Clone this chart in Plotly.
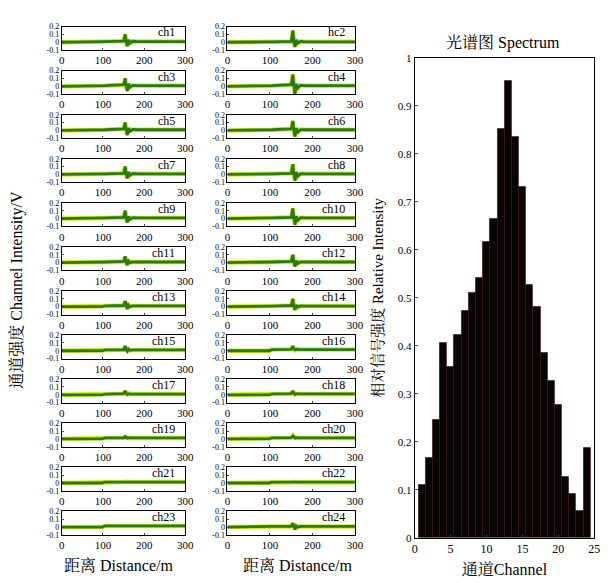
import plotly.graph_objects as go

# ---------------- data ----------------
distance = [0, 98, 105, 150, 154, 156, 159, 162, 166, 172, 185, 300]

ch1 = [0, 0, 0.008, 0.015, 0.10, 0.01, -0.05, 0.03, -0.01, 0.012, 0.008, 0.008]
ch3 = [0, 0, 0.008, 0.02, 0.10, 0.01, -0.06, 0.03, -0.01, 0.012, 0.008, 0.008]
ch5 = [0, 0, 0.008, 0.02, 0.10, 0.01, -0.06, 0.03, -0.01, 0.012, 0.008, 0.008]
ch7 = [0, 0, 0.008, 0.015, 0.10, 0.01, -0.05, 0.03, -0.01, 0.012, 0.008, 0.008]
ch9 = [0, 0, 0.008, 0.015, 0.10, 0.01, -0.05, 0.025, -0.01, 0.012, 0.008, 0.008]
ch11 = [0, 0, 0.008, 0.015, 0.08, 0.01, -0.03, 0.02, 0, 0.01, 0.008, 0.008]
ch13 = [0, 0, 0.01, 0.015, 0.07, 0.01, -0.03, 0.02, 0, 0.01, 0.01, 0.01]
ch15 = [0, 0, 0.01, 0.012, 0.06, 0.01, -0.01, 0.02, 0.005, 0.01, 0.01, 0.01]
ch17 = [0, 0, 0.01, 0.015, 0.05, 0.02, 0.005, 0.015, 0.01, 0.01, 0.01, 0.01]
ch19 = [0, 0, 0.012, 0.015, 0.03, 0.02, 0.01, 0.015, 0.012, 0.012, 0.012, 0.012]
ch21 = [0, 0, 0.012, 0.012, 0.015, 0.012, 0.01, 0.012, 0.012, 0.012, 0.012, 0.012]
ch23 = [0, 0, 0.015, 0.015, 0.015, 0.015, 0.015, 0.015, 0.015, 0.015, 0.015, 0.015]

hc2 = [0, 0, 0.005, 0.01, 0.15, 0.01, -0.06, 0.03, -0.01, 0.01, 0.005, 0.005]
ch4 = [0, 0, 0.008, 0.02, 0.15, 0.02, -0.10, 0.03, -0.02, 0.012, 0.008, 0.008]
ch6 = [0, 0, 0.008, 0.02, 0.12, 0.01, -0.08, 0.03, -0.02, 0.01, 0.008, 0.008]
ch8 = [0, 0, 0.008, 0.015, 0.13, 0.01, -0.08, 0.03, -0.02, 0.01, 0.008, 0.008]
ch10 = [0, 0, 0.008, 0.015, 0.13, 0.01, -0.08, 0.03, -0.02, 0.01, 0.008, 0.008]
ch12 = [0, 0, 0.008, 0.015, 0.10, 0.01, -0.05, 0.025, -0.01, 0.01, 0.008, 0.008]
ch14 = [0, 0, 0.008, 0.015, 0.10, 0.01, -0.04, 0.02, -0.005, 0.01, 0.008, 0.008]
ch16 = [0, 0, 0.015, 0.018, 0.06, 0.02, 0.01, 0.02, 0.015, 0.015, 0.015, 0.015]
ch18 = [0, 0, 0.012, 0.015, 0.05, 0.02, 0.005, 0.015, 0.012, 0.012, 0.012, 0.012]
ch20 = [0, 0, 0.012, 0.015, 0.04, 0.02, 0.01, 0.015, 0.012, 0.012, 0.012, 0.012]
ch22 = [0, 0, 0.01, 0.01, 0.015, 0.01, 0.008, 0.01, 0.01, 0.01, 0.01, 0.01]
ch24 = [0, 0, 0.008, 0.01, 0.05, 0.01, -0.03, 0.015, 0, 0.008, 0.008, 0.008]

left_names = ["ch1", "ch3", "ch5", "ch7", "ch9", "ch11", "ch13", "ch15", "ch17", "ch19", "ch21", "ch23"]
right_names = ["hc2", "ch4", "ch6", "ch8", "ch10", "ch12", "ch14", "ch16", "ch18", "ch20", "ch22", "ch24"]
left_series = [ch1, ch3, ch5, ch7, ch9, ch11, ch13, ch15, ch17, ch19, ch21, ch23]
right_series = [hc2, ch4, ch6, ch8, ch10, ch12, ch14, ch16, ch18, ch20, ch22, ch24]

channels = list(range(1, 25))
intensity = [0.111, 0.166, 0.246, 0.407, 0.357, 0.423, 0.473, 0.510, 0.541, 0.617,
             0.664, 0.852, 0.953, 0.836, 0.732, 0.527, 0.481, 0.386, 0.328, 0.277,
             0.126, 0.092, 0.056, 0.187]

dist_ticks = [0, 100, 200, 300]
volt_ticks = [-0.1, 0, 0.1, 0.2]
volt_ticktext = ["-0.1", "0", "0.1", "0.2"]

# ---------------- layout helpers ----------------
W, H = 610, 583
SERIF = "Liberation Serif, Noto Serif CJK SC, Noto Sans CJK SC, serif"


def px(x):
    return x / W


def py(y):
    return 1 - y / H


fig = go.Figure()
layout = {}
annotations = []

col_x = [(60, 186), (229, 359)]
row_top0, row_pitch, box_h = 21, 45, 24

idx = 0
for c, (names, series) in enumerate([(left_names, left_series), (right_names, right_series)]):
    x0, x1 = col_x[c]
    for r in range(12):
        idx += 1
        top = row_top0 + row_pitch * r
        bot = top + box_h
        xa = "x" if idx == 1 else f"x{idx}"
        ya = "y" if idx == 1 else f"y{idx}"
        xk = "xaxis" if idx == 1 else f"xaxis{idx}"
        yk = "yaxis" if idx == 1 else f"yaxis{idx}"
        vals = series[r]
        fig.add_trace(go.Scatter(x=distance, y=vals, mode="lines",
                                 line=dict(color="#d6e81c", width=4.5),
                                 xaxis=xa, yaxis=ya, showlegend=False, hoverinfo="skip"))
        fig.add_trace(go.Scatter(x=distance, y=vals, mode="lines",
                                 line=dict(color="#2a7a12", width=2.8),
                                 xaxis=xa, yaxis=ya, showlegend=False))
        layout[xk] = dict(domain=[px(x0), px(x1)], anchor=ya, range=[0, 300],
                          tickvals=dist_ticks, ticks="inside", ticklen=2,
                          showline=True, mirror=True, linecolor="black", linewidth=1,
                          showgrid=False, zeroline=False,
                          tickfont=dict(family=SERIF, size=11, color="black"))
        layout[yk] = dict(domain=[py(bot), py(top)], anchor=xa, range=[-0.1, 0.2],
                          tickvals=volt_ticks, ticktext=volt_ticktext,
                          ticks="inside", ticklen=2,
                          showline=True, mirror=True, linecolor="black", linewidth=1,
                          showgrid=False, zeroline=False,
                          tickfont=dict(family=SERIF, size=8, color="black"))
        annotations.append(dict(text=names[r], x=px(x1 - 8), y=py(top + 6), xref="paper", yref="paper",
                                xanchor="right", yanchor="middle", showarrow=False,
                                font=dict(family=SERIF, size=12, color="black")))

# spectrum bar chart
idx += 1
fig.add_trace(go.Bar(x=channels, y=intensity, width=1,
                     marker=dict(color="#0a0505", line=dict(color="#3a0c0c", width=0.6)),
                     xaxis=f"x{idx}", yaxis=f"y{idx}", showlegend=False))
layout[f"xaxis{idx}"] = dict(domain=[px(420), px(603)], anchor=f"y{idx}", range=[0, 25],
                             tickvals=[0, 5, 10, 15, 20, 25], ticks="inside", ticklen=3,
                             showline=True, mirror=True, linecolor="black", linewidth=1,
                             showgrid=False, zeroline=False,
                             tickfont=dict(family=SERIF, size=12, color="black"),
                             title=dict(text="通道Channel", standoff=8,
                                        font=dict(family=SERIF, size=16, color="black")))
layout[f"yaxis{idx}"] = dict(domain=[py(543), py(53)], anchor=f"x{idx}", range=[0, 1],
                             dtick=0.1, tick0=0, ticks="inside", ticklen=3,
                             showline=True, mirror=True, linecolor="black", linewidth=1,
                             showgrid=False, zeroline=False,
                             tickfont=dict(family=SERIF, size=11, color="black"),
                             title=dict(text="相对信号强度 Relative Intensity", standoff=10,
                                        font=dict(family=SERIF, size=15, color="black")))

annotations.append(dict(text="光谱图 Spectrum", x=px(510), y=py(38), xref="paper", yref="paper",
                        xanchor="center", yanchor="middle", showarrow=False,
                        font=dict(family=SERIF, size=16, color="black")))
annotations.append(dict(text="通道强度 Channel Intensity/V", x=px(14), y=py(290), xref="paper",
                        yref="paper", xanchor="center", yanchor="middle", showarrow=False,
                        textangle=-90, font=dict(family=SERIF, size=16, color="black")))
annotations.append(dict(text="距离 Distance/m", x=px(118), y=py(571), xref="paper", yref="paper",
                        xanchor="center", yanchor="middle", showarrow=False,
                        font=dict(family=SERIF, size=16, color="black")))
annotations.append(dict(text="距离 Distance/m", x=px(300), y=py(571), xref="paper", yref="paper",
                        xanchor="center", yanchor="middle", showarrow=False,
                        font=dict(family=SERIF, size=16, color="black")))

fig.update_layout(width=W, height=H, margin=dict(l=0, r=0, t=0, b=0),
                  paper_bgcolor="white", plot_bgcolor="white",
                  bargap=0, annotations=annotations, **layout)

fig.write_html("out.html")
